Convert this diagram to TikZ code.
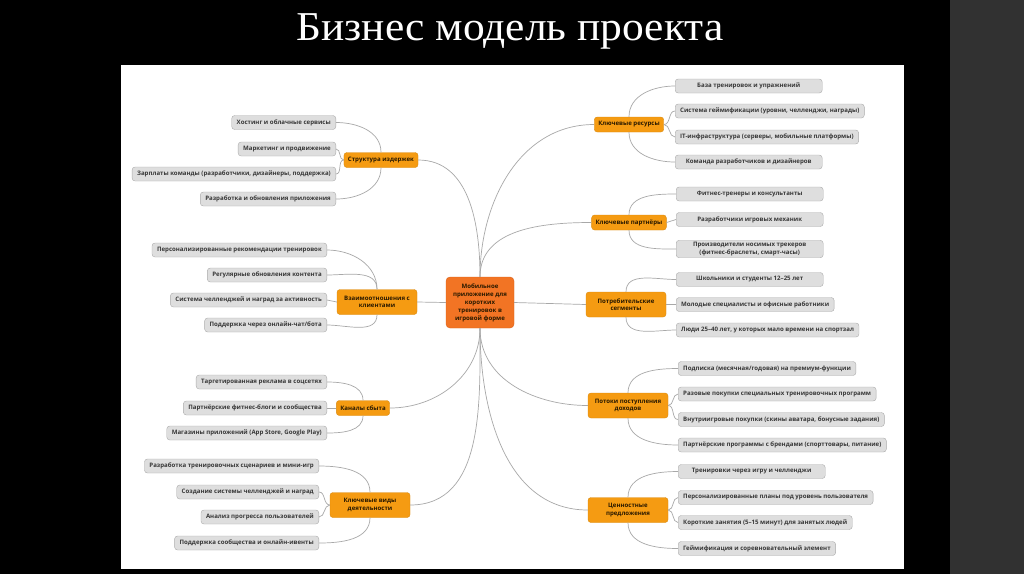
\documentclass[tikz,border=0pt]{standalone}
\usepackage{fontspec}
\setmainfont{Liberation Serif}
\newfontfamily\mapfont{Open Sans}
\usepackage{xcolor}
\usetikzlibrary{positioning}

\definecolor{stripgrey}{HTML}{313131}
\definecolor{leafbg}{HTML}{DEDEDE}
\definecolor{leafline}{HTML}{ABABAB}
\definecolor{leaftext}{HTML}{383838}
\definecolor{grpbg}{HTML}{F59B12}
\definecolor{grpline}{HTML}{D98A10}
\definecolor{grptext}{HTML}{2B1A00}
\definecolor{hubbg}{HTML}{F27424}
\definecolor{hubline}{HTML}{D9601A}
\definecolor{linkgrey}{HTML}{A8A8A8}

\begin{document}
\begin{tikzpicture}[
    x=1pt, y=-1pt,
    leaf/.style={draw=leafline, fill=leafbg, rounded corners=3pt, text=leaftext, align=center,
        font=\mapfont\bfseries\fontsize{6.1}{7.6}\selectfont, inner xsep=5pt, inner ysep=2pt, minimum height=14pt},
    lleaf/.style={leaf, anchor=east},
    rleaf/.style={leaf, anchor=west, minimum width=147pt},
    group/.style={draw=grpline, fill=grpbg, rounded corners=3pt, text=grptext, align=center,
        font=\mapfont\bfseries\fontsize{6.1}{7.6}\selectfont, inner xsep=4pt, inner ysep=2pt, minimum height=15pt},
    wide/.style={minimum width=80pt, minimum height=25pt},
    hub/.style={draw=hubline, fill=hubbg, rounded corners=4pt, text=grptext, align=center,
        font=\mapfont\bfseries\fontsize{6.1}{8}\selectfont, minimum width=68pt, minimum height=51pt},
    link/.style={draw=linkgrey, line width=0.7pt}
]

% slide
\fill[black] (0,0) rectangle (1024,574);
\fill[stripgrey] (950,0) rectangle (1024,574);
\fill[white] (121,65) rectangle (904,569);
\node[text=white, font=\fontsize{41}{45}\selectfont, anchor=base, xscale=1.06] (title) at (510,40) {Бизнес модель проекта};

% centre
\node[hub] (hub) at (480,302.5) {Мобильное\\приложение для\\коротких\\тренировок в\\игровой форме};

% Структура издержек
\node[group] (cost) at (381,160) {Структура издержек};
\node[lleaf] (c1) at (336,122.5) {Хостинг и облачные сервисы};
\node[lleaf] (c2) at (336,149) {Маркетинг и продвижение};
\node[lleaf] (c3) at (336,174) {Зарплаты команды (разработчики, дизайнеры, поддержка)};
\node[lleaf] (c4) at (336,199) {Разработка и обновления приложения};

% Взаимоотношения с клиентами
\node[group, wide] (rel) at (377,302) {Взаимоотношения с\\клиентами};
\node[lleaf] (r1) at (327,250) {Персонализированные рекомендации тренировок};
\node[lleaf] (r2) at (327,275) {Регулярные обновления контента};
\node[lleaf] (r3) at (327,300) {Система челленджей и наград за активность};
\node[lleaf] (r4) at (327,325) {Поддержка через онлайн-чат/бота};

% Каналы сбыта
\node[group] (chan) at (363,408) {Каналы сбыта};
\node[lleaf] (h1) at (327,382) {Таргетированная реклама в соцсетях};
\node[lleaf] (h2) at (327,408) {Партнёрские фитнес-блоги и сообщества};
\node[lleaf] (h3) at (327,433) {Магазины приложений (App Store, Google Play)};

% Ключевые виды деятельности
\node[group, wide] (act) at (370,505) {Ключевые виды\\деятельности};
\node[lleaf] (a1) at (319,466) {Разработка тренировочных сценариев и мини-игр};
\node[lleaf] (a2) at (319,492) {Создание системы челленджей и наград};
\node[lleaf] (a3) at (319,517) {Анализ прогресса пользователей};
\node[lleaf] (a4) at (319,543) {Поддержка сообщества и онлайн-ивенты};

% Ключевые ресурсы
\node[group] (res) at (629,124.5) {Ключевые ресурсы};
\node[rleaf] (s1) at (675,86) {База тренировок и упражнений};
\node[rleaf] (s2) at (675,111) {Система геймификации (уровни, челленджи, награды)};
\node[rleaf] (s3) at (675,137) {IT-инфраструктура (серверы, мобильные платформы)};
\node[rleaf] (s4) at (675,162) {Команда разработчиков и дизайнеров};

% Ключевые партнёры
\node[group] (part) at (629,222.5) {Ключевые партнёры};
\node[rleaf] (p1) at (676,194) {Фитнес-тренеры и консультанты};
\node[rleaf] (p2) at (676,219.5) {Разработчики игровых механик};
\node[rleaf] (p3) at (676,249) {Производители носимых трекеров\\(фитнес-браслеты, смарт-часы)};

% Потребительские сегменты
\node[group, wide] (seg) at (626,304.5) {Потребительские\\сегменты};
\node[rleaf] (g1) at (676,279.5) {Школьники и студенты 12–25 лет};
\node[rleaf] (g2) at (676,304.5) {Молодые специалисты и офисные работники};
\node[rleaf] (g3) at (676,330) {Люди 25–40 лет, у которых мало времени на спортзал};

% Потоки поступления доходов
\node[group, wide] (rev) at (628,405.5) {Потоки поступления\\доходов};
\node[rleaf] (v1) at (678,368.5) {Подписка (месячная/годовая) на премиум-функции};
\node[rleaf] (v2) at (678,394) {Разовые покупки специальных тренировочных программ};
\node[rleaf] (v3) at (678,419.5) {Внутриигровые покупки (скины аватара, бонусные задания)};
\node[rleaf] (v4) at (678,445) {Партнёрские программы с брендами (спорттовары, питание)};

% Ценностные предложения
\node[group, wide] (val) at (628,510) {Ценностные\\предложения};
\node[rleaf] (u1) at (678,471.5) {Тренировки через игру и челленджи};
\node[rleaf] (u2) at (678,497.5) {Персонализированные планы под уровень пользователя};
\node[rleaf] (u3) at (678,522.5) {Короткие занятия (5–15 минут) для занятых людей};
\node[rleaf] (u4) at (678,548.5) {Геймификация и соревновательный элемент};

% centre to groups
\draw[link] (hub.north) to[out=90, in=0] (cost.east);
\draw[link] (hub.north) to[out=90, in=180] (res.west);
\draw[link] (hub.north) to[out=90, in=180] (part.west);
\draw[link] (hub.west) -- (rel.east);
\draw[link] (hub.east) -- (seg.west);
\draw[link] (hub.south) to[out=-90, in=0] (chan.east);
\draw[link] (hub.south) to[out=-90, in=0] (act.east);
\draw[link] (hub.south) to[out=-90, in=180] (rev.west);
\draw[link] (hub.south) to[out=-90, in=180] (val.west);

% left groups to leaves
\draw[link] (cost.north) to[out=90, in=0] (c1.east);
\foreach \l in {c2, c3} \draw[link] (cost.west) to[out=180, in=0] (\l.east);
\draw[link] (cost.south) to[out=-90, in=0] (c4.east);

\foreach \l in {r1, r2} \draw[link] (rel.north) to[out=90, in=0] (\l.east);
\draw[link] (rel.west) to[out=180, in=0] (r3.east);
\draw[link] (rel.south) to[out=-90, in=0] (r4.east);

\draw[link] (chan.north) to[out=90, in=0] (h1.east);
\draw[link] (chan.west) -- (h2.east);
\draw[link] (chan.south) to[out=-90, in=0] (h3.east);

\draw[link] (act.north) to[out=90, in=0] (a1.east);
\foreach \l in {a2, a3} \draw[link] (act.west) to[out=180, in=0] (\l.east);
\draw[link] (act.south) to[out=-90, in=0] (a4.east);

% right groups to leaves
\draw[link] (res.north) to[out=90, in=180] (s1.west);
\foreach \l in {s2, s3} \draw[link] (res.east) to[out=0, in=180] (\l.west);
\draw[link] (res.south) to[out=-90, in=180] (s4.west);

\draw[link] (part.north) to[out=90, in=180] (p1.west);
\draw[link] (part.east) -- (p2.west);
\draw[link] (part.south) to[out=-90, in=180] (p3.west);

\draw[link] (seg.north) to[out=90, in=180] (g1.west);
\draw[link] (seg.east) -- (g2.west);
\draw[link] (seg.south) to[out=-90, in=180] (g3.west);

\draw[link] (rev.north) to[out=90, in=180] (v1.west);
\foreach \l in {v2, v3} \draw[link] (rev.east) to[out=0, in=180] (\l.west);
\draw[link] (rev.south) to[out=-90, in=180] (v4.west);

\draw[link] (val.north) to[out=90, in=180] (u1.west);
\foreach \l in {u2, u3} \draw[link] (val.east) to[out=0, in=180] (\l.west);
\draw[link] (val.south) to[out=-90, in=180] (u4.west);

\end{tikzpicture}
\end{document}
